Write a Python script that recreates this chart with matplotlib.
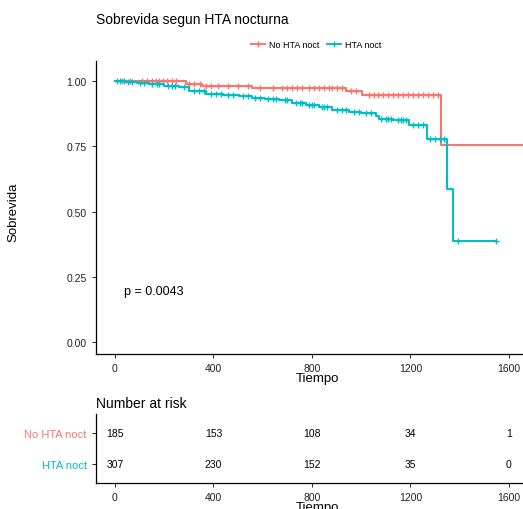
import numpy as np
import matplotlib
matplotlib.use("Agg")
from matplotlib import pyplot as plt
from matplotlib.lines import Line2D

plt.rcParams['font.family'] = ['Liberation Sans', 'DejaVu Sans']

RED = '#F8766D'
TEAL = '#00BFC4'

# Kaplan-Meier steps
red_t = [0, 288, 353, 556, 938, 1003, 1324]
red_s = [1.0, 0.989, 0.982, 0.972, 0.963, 0.948, 0.755]
red_end = 1720
red_cens = [30, 60, 110, 130, 150, 165, 180, 195, 210, 230, 250, 300, 320, 345,
            370, 390, 420, 460, 500, 540, 590, 640, 680, 700, 720, 740, 760,
            790, 810, 830, 850, 870, 880, 900, 920, 960, 980, 1030, 1050, 1070,
            1090, 1110, 1130, 1150, 1170, 1190, 1210, 1230, 1250, 1270, 1290, 1310]

teal_t = [0, 40, 90, 138, 200, 260, 300, 369, 440, 503, 556, 610, 666, 719, 775,
          828, 881, 950, 1000, 1060, 1072, 1130, 1194, 1267, 1347, 1372]
teal_s = [1.0, 0.997, 0.993, 0.989, 0.982, 0.976, 0.963, 0.950, 0.947, 0.944,
          0.935, 0.931, 0.928, 0.918, 0.908, 0.899, 0.890, 0.882, 0.877, 0.867,
          0.854, 0.850, 0.831, 0.778, 0.586, 0.388]
teal_end = 1547
teal_cens = [10, 20, 35, 55, 70, 100, 120, 150, 170, 180, 215, 230, 245, 280, 320,
             340, 360, 390, 410, 430, 460, 480, 520, 540, 570, 590, 620, 640, 655,
             690, 700, 735, 750, 760, 790, 800, 810, 840, 850, 860, 900, 920, 940,
             970, 990, 1020, 1040, 1080, 1100, 1110, 1120, 1150, 1160, 1170, 1180,
             1210, 1230, 1250, 1280, 1300, 1320, 1335, 1393, 1547]

groups = ['No HTA noct', 'HTA noct']
risk_times = [0, 400, 800, 1200, 1600]
risk_red = [185, 153, 108, 34, 1]
risk_teal = [307, 230, 152, 35, 0]
p_text = 'p = 0.0043'

W, H = 523, 510
fig = plt.figure(figsize=(W / 100, H / 100), dpi=100)

def box(l, t, r, b):
    return [l / W, 1 - b / H, (r - l) / W, (b - t) / H]

xlim = (-78, 1720)
xright = 115 + (xlim[1]) * 0.24625

ax = fig.add_axes(box(95.7, 62, xright, 355.3))
tab = fig.add_axes(box(95.7, 415, xright, 484))

def km(ax, t, s, end, cens, c):
    tt = list(t) + [end]
    ss = list(s) + [s[-1]]
    ax.step(tt, ss, where='post', color=c, lw=1.5)
    idx = np.searchsorted(t, cens, side='right') - 1
    ax.plot(cens, np.array(s)[idx], ls='none', marker='+', color=c,
            ms=4, mew=1.0)

km(ax, red_t, red_s, red_end, red_cens, RED)
km(ax, teal_t, teal_s, teal_end, teal_cens, TEAL)

for a in (ax, tab):
    a.set_xlim(*xlim)
    a.spines['top'].set_visible(False)
    a.spines['right'].set_visible(False)
    a.spines['left'].set_linewidth(0.9)
    a.spines['bottom'].set_linewidth(0.9)
    a.set_xticks(risk_times)
    a.tick_params(length=3, width=0.7, labelsize=7.5, colors='#222222')
    a.set_xlabel('Tiempo', fontsize=9.5, labelpad=-1)

ax.set_ylim(-0.046, 1.077)
ax.set_yticks([0, 0.25, 0.5, 0.75, 1.0])
ax.set_yticklabels(['0.00', '0.25', '0.50', '0.75', '1.00'])
ax.set_ylabel('Sobrevida', fontsize=9.5)
ax.yaxis.set_label_coords(19 / W, 1 - 212 / H, transform=fig.transFigure)
ax.text(37, 0.196, p_text, fontsize=9, va='center', ha='left')

fig.text(96 / W, 1 - 20 / H, 'Sobrevida segun HTA nocturna', fontsize=10,
         va='center', ha='left')

handles = [Line2D([], [], color=RED, lw=1.4, marker='+', ms=4),
           Line2D([], [], color=TEAL, lw=1.4, marker='+', ms=4)]
fig.legend(handles, groups, loc='center', bbox_to_anchor=(316 / W, 1 - 46 / H),
           ncol=2, frameon=False, fontsize=6.5, handlelength=1.6,
           handletextpad=0.4, columnspacing=0.8)

# risk table
tab.set_ylim(0.37, 2.63)
tab.set_yticks([2, 1])
tab.set_yticklabels(groups, fontsize=8)
for lbl, c in zip(tab.get_yticklabels(), [RED, TEAL]):
    lbl.set_color(c)
for x, n in zip(risk_times, risk_red):
    tab.text(x, 2, str(n), fontsize=7.5, ha='center', va='center')
for x, n in zip(risk_times, risk_teal):
    tab.text(x, 1, str(n), fontsize=7.5, ha='center', va='center')
fig.text(96 / W, 1 - 404 / H, 'Number at risk', fontsize=10,
         va='center', ha='left')

fig.savefig('out.png', dpi=100)
